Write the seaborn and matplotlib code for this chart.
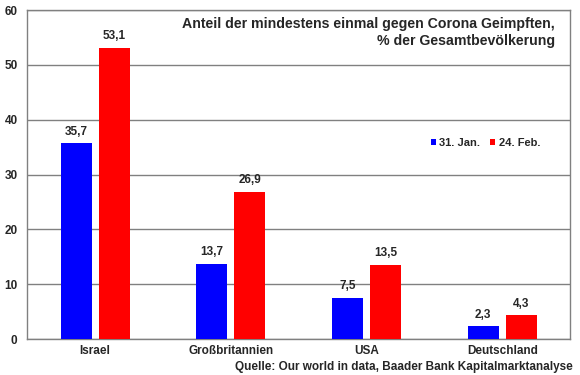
import matplotlib
matplotlib.use("Agg")
import matplotlib.pyplot as plt
import seaborn as sns
import pandas as pd

countries = ["Israel", "Großbritannien", "USA", "Deutschland"]
jan_values = [35.7, 13.7, 7.5, 2.3]
feb_values = [53.1, 26.9, 13.5, 4.3]
series_names = ["31. Jan.", "24. Feb."]
yticks = [0, 10, 20, 30, 40, 50, 60]

df = pd.DataFrame({
    "Land": countries * 2,
    "Serie": [series_names[0]] * 4 + [series_names[1]] * 4,
    "Wert": jan_values + feb_values,
})

sns.set_style("white")
plt.rcParams["font.family"] = ["Liberation Sans", "DejaVu Sans"]
plt.rcParams["font.weight"] = "bold"

fig = plt.figure(figsize=(5.8, 3.75), dpi=100)
ax = fig.add_axes([0.047, 0.096, 0.936, 0.877])

sns.barplot(data=df, x="Land", y="Wert", hue="Serie", hue_order=series_names,
            palette=["#0000FF", "#FF0000"], width=0.56, gap=0.18,
            saturation=1, ax=ax, zorder=3, edgecolor="none")

for cont in ax.containers:
    labels = [f"{v:.1f}".replace(".", ",") for v in cont.datavalues]
    ax.bar_label(cont, labels=labels, padding=4, fontsize=8.5, fontweight="bold")

ax.set_ylim(0, 60)
ax.set_xlim(-0.5, 3.5)
ax.set_yticks(yticks)
ax.set_yticklabels([str(t) for t in yticks], fontsize=8.5, fontweight="bold")
ax.tick_params(axis="y", length=0, pad=7)
ax.tick_params(axis="x", length=0, pad=4, labelsize=8.5)
for lbl in ax.get_xticklabels():
    lbl.set_fontweight("bold")
ax.set_xlabel("")
ax.set_ylabel("")
ax.yaxis.grid(True, color="#808080", linewidth=1, zorder=0)
for s in ax.spines.values():
    s.set_color("#808080")
    s.set_linewidth(1)

leg = ax.legend(loc="center left", bbox_to_anchor=(0.725, 0.595), frameon=False,
                fontsize=8, handlelength=0.45, handleheight=0.45, handletextpad=0.3,
                ncol=2, columnspacing=0.9)
for t in leg.get_texts():
    t.set_fontweight("bold")

fig.text(0.957, 0.955, "Anteil der mindestens einmal gegen Corona Geimpften,\n% der Gesamtbevölkerung",
         ha="right", va="top", fontsize=10.2, fontweight="bold", linespacing=1.3)
fig.text(0.987, 0.006, "Quelle: Our world in data, Baader Bank Kapitalmarktanalyse",
         ha="right", va="bottom", fontsize=8.5, fontweight="bold")

fig.savefig("out.png", dpi=100)
